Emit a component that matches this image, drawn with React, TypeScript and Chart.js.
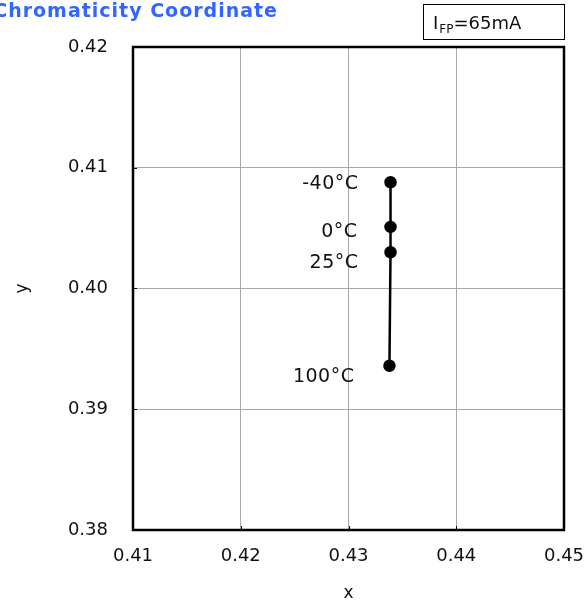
import { useEffect, useRef } from "react";
import { Chart, registerables } from "chart.js";

Chart.register(...registerables);

const temperatureLabels = ["-40°C", "0°C", "25°C", "100°C"];
const xValues = [0.4339, 0.4339, 0.4339, 0.4338];
const yValues = [0.4088, 0.4051, 0.403, 0.3936];
const xTicks = [0.41, 0.42, 0.43, 0.44, 0.45];
const yTicks = [0.38, 0.39, 0.4, 0.41, 0.42];

const FONT = "'DejaVu Sans', Verdana, sans-serif";
// label nudges relative to each point (dx, dy)
const labelNudge = [
  [-32, 2],
  [-33, 5],
  [-32, 11],
  [-35, 11],
];

const decorations = {
  id: "decorations",
  beforeDatasetsDraw(chart: any) {
    const { ctx, chartArea } = chart;
    const { left, right, top, bottom } = chartArea;
    ctx.save();
    // small inward tick marks
    ctx.strokeStyle = "#000";
    ctx.lineWidth = 1;
    const xs = chart.scales.x;
    const ys = chart.scales.y;
    xTicks.forEach((v) => {
      const px = Math.round(xs.getPixelForValue(v)) + 0.5;
      ctx.beginPath();
      ctx.moveTo(px, bottom);
      ctx.lineTo(px, bottom - 4);
      ctx.stroke();
    });
    yTicks.forEach((v) => {
      const py = Math.round(ys.getPixelForValue(v)) + 0.5;
      ctx.beginPath();
      ctx.moveTo(left, py);
      ctx.lineTo(left + 4, py);
      ctx.stroke();
    });
    // frame
    ctx.lineWidth = 2.5;
    ctx.strokeRect(left, top, right - left, bottom - top);
    ctx.restore();
  },
  afterDatasetsDraw(chart: any) {
    const { ctx } = chart;
    const meta = chart.getDatasetMeta(0);
    ctx.save();
    ctx.fillStyle = "#111";
    ctx.font = `19px ${FONT}`;
    ctx.letterSpacing = "0.5px";
    ctx.textAlign = "right";
    ctx.textBaseline = "middle";
    meta.data.forEach((pt: any, i: number) => {
      const [dx, dy] = labelNudge[i];
      ctx.fillText(temperatureLabels[i], pt.x + dx, pt.y + dy);
    });

    // title
    ctx.fillStyle = "#3366ff";
    ctx.font = `bold 19px ${FONT}`;
    ctx.letterSpacing = "1px";
    ctx.textBaseline = "alphabetic";
    ctx.fillText("Chromaticity Coordinate", 278, 17);
    ctx.letterSpacing = "0px";

    // condition box
    ctx.strokeStyle = "#000";
    ctx.lineWidth = 1;
    ctx.strokeRect(423.5, 4.5, 141, 35);
    ctx.fillStyle = "#111";
    ctx.textAlign = "left";
    ctx.font = `18px ${FONT}`;
    let x = 433;
    ctx.fillText("I", x, 29);
    x += ctx.measureText("I").width + 1;
    ctx.font = `12px ${FONT}`;
    ctx.fillText("FP", x, 33);
    x += ctx.measureText("FP").width;
    ctx.font = `18px ${FONT}`;
    ctx.fillText("=65mA", x, 29);
    ctx.restore();
  },
};

export default function App() {
  const canvasRef = useRef<HTMLCanvasElement | null>(null);

  useEffect(() => {
    if (!canvasRef.current) return;
    const chart = new Chart(canvasRef.current, {
      type: "scatter",
      data: {
        datasets: [
          {
            data: xValues.map((x, i) => ({ x, y: yValues[i] })),
            showLine: true,
            borderColor: "#000",
            borderWidth: 2.5,
            pointRadius: 5,
            pointBackgroundColor: "#000",
            pointBorderColor: "#000",
          },
        ],
      },
      options: {
        responsive: false,
        animation: false,
        layout: { padding: { top: 47, right: 22, left: 0, bottom: 0 } },
        plugins: {
          legend: { display: false },
          tooltip: { enabled: false },
        },
        scales: {
          x: {
            type: "linear",
            min: 0.41,
            max: 0.45,
            afterBuildTicks: (s: any) => {
              s.ticks = xTicks.map((value) => ({ value }));
            },
            afterFit: (s: any) => {
              s.height = 72;
              s.paddingLeft = 0;
              s.paddingRight = 0;
            },
            grid: { color: "#a8a8a8", lineWidth: 1, drawTicks: false },
            border: { display: false },
            ticks: {
              padding: 16,
              color: "#111",
              font: { family: FONT, size: 18 },
              callback: (v: any) => Number(v).toFixed(2),
              maxRotation: 0,
            },
            title: {
              display: true,
              text: "x",
              color: "#111",
              font: { family: FONT, size: 17 },
              padding: { top: 0, bottom: -2 },
            },
          },
          y: {
            type: "linear",
            min: 0.38,
            max: 0.42,
            afterBuildTicks: (s: any) => {
              s.ticks = yTicks.map((value) => ({ value }));
            },
            afterFit: (s: any) => {
              s.width = 133;
              s.paddingTop = 0;
              s.paddingBottom = 0;
            },
            grid: { color: "#a8a8a8", lineWidth: 1, drawTicks: false },
            border: { display: false },
            ticks: {
              padding: 25,
              color: "#111",
              font: { family: FONT, size: 18 },
              callback: (v: any) => Number(v).toFixed(2),
            },
            title: {
              display: true,
              text: "y",
              color: "#111",
              font: { family: FONT, size: 17 },
              padding: { top: 12, bottom: 0 },
            },
          },
        },
      },
      plugins: [decorations],
    });
    return () => chart.destroy();
  }, []);

  return (
    <div style={{ position: "fixed", left: 0, top: 0, width: 586, height: 602, background: "#fff" }}>
      <canvas ref={canvasRef} width={586} height={602} />
    </div>
  );
}
